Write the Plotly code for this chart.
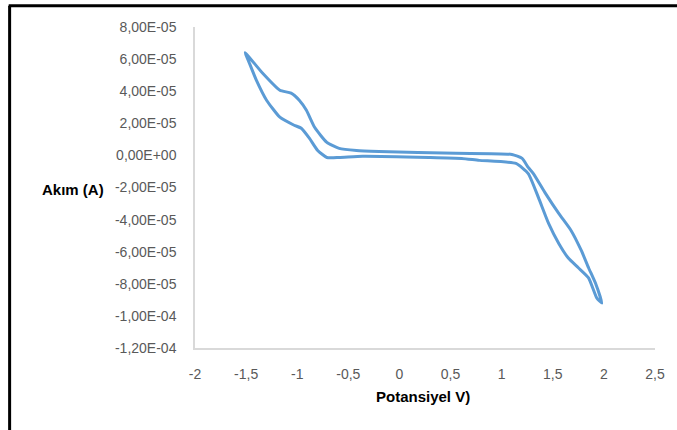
import plotly.graph_objects as go

# Potansiyel (V) ve akim (A) - cevrim boyunca okunan noktalar
potansiyel = [
    -1.51, -1.34, -1.17, -1.06, -0.98, -0.91, -0.83, -0.71, -0.59, -0.42, -0.20,
    0.55, 1.10, 1.20, 1.26, 1.31, 1.43, 1.56, 1.68, 1.78, 1.85, 1.92, 1.98,
    1.93, 1.85, 1.75, 1.65, 1.56, 1.46, 1.36, 1.26, 1.14, 0.78, 0.61, 0.29,
    -0.36, -0.59, -0.71, -0.80, -0.88, -0.96, -1.03, -1.17, -1.30, -1.40, -1.48, -1.51,
]
akim = [
    6.4e-5, 5.13e-5, 4.06e-5, 3.88e-5, 3.44e-5, 2.81e-5, 1.75e-5, 0.81e-5, 0.44e-5, 0.31e-5, 0.25e-5,
    0.13e-5, 0.06e-5, -0.19e-5, -0.75e-5, -1.13e-5, -2.38e-5, -3.63e-5, -4.69e-5, -5.94e-5, -7.0e-5, -8.0e-5, -9.2e-5,
    -8.88e-5, -7.63e-5, -7.0e-5, -6.38e-5, -5.5e-5, -4.25e-5, -2.63e-5, -1.13e-5, -0.5e-5, -0.31e-5, -0.19e-5, -0.13e-5,
    -0.06e-5, -0.13e-5, -0.13e-5, 0.31e-5, 1.06e-5, 1.69e-5, 1.88e-5, 2.38e-5, 3.44e-5, 4.69e-5, 5.94e-5, 6.4e-5,
]

x_ticks = [-2, -1.5, -1, -0.5, 0, 0.5, 1, 1.5, 2, 2.5]
x_labels = ["-2", "-1,5", "-1", "-0,5", "0", "0,5", "1", "1,5", "2", "2,5"]
y_ticks = [8e-5, 6e-5, 4e-5, 2e-5, 0, -2e-5, -4e-5, -6e-5, -8e-5, -1e-4, -1.2e-4]
y_labels = ["8,00E-05", "6,00E-05", "4,00E-05", "2,00E-05", "0,00E+00", "-2,00E-05",
            "-4,00E-05", "-6,00E-05", "-8,00E-05", "-1,00E-04", "-1,20E-04"]

fig = go.Figure()

fig.add_trace(
    go.Scatter(
        x=potansiyel,
        y=akim,
        mode="lines",
        line=dict(color="#5B9BD5", width=3, shape="spline", smoothing=0.5),
        showlegend=False,
    )
)

axis_font = dict(family="Liberation Sans", size=14, color="#595959")

fig.update_xaxes(
    range=[-2, 2.5],
    tickvals=x_ticks,
    ticktext=x_labels,
    showgrid=False,
    zeroline=False,
    showline=True,
    linecolor="#D9D9D9",
    linewidth=1.5,
    ticks="",
    ticklabelstandoff=12,
    tickfont=axis_font,
)
fig.update_yaxes(
    range=[-1.2e-4, 8e-5],
    tickvals=y_ticks,
    ticktext=y_labels,
    showgrid=False,
    zeroline=False,
    showline=True,
    linecolor="#D9D9D9",
    linewidth=1.5,
    ticks="",
    ticklabelstandoff=14,
    tickfont=axis_font,
)

title_font = dict(family="Liberation Sans", size=15, color="#000000")

fig.update_layout(
    width=677,
    height=430,
    margin=dict(l=195, r=20, t=27, b=82),
    plot_bgcolor="white",
    paper_bgcolor="white",
    annotations=[
        dict(text="<b>Akım (A)</b>", xref="paper", yref="paper", x=-0.266, y=0.495,
             showarrow=False, font=title_font, xanchor="center", yanchor="middle"),
        dict(text="<b>Potansiyel V)</b>", xref="paper", yref="paper", x=0.496, y=-0.15,
             showarrow=False, font=title_font, xanchor="center", yanchor="middle"),
    ],
    shapes=[
        # cerceve (ust ve sol kenar)
        dict(type="line", xref="paper", yref="paper", x0=-0.405, x1=1.06, y0=1.066, y1=1.066,
             line=dict(color="black", width=3)),
        dict(type="line", xref="paper", yref="paper", x0=-0.403, x1=-0.403, y0=-0.3, y1=1.066,
             line=dict(color="black", width=3)),
    ],
)

# sayfa kenar boslugunu kaldir
fig.write_html(
    "out.html",
    config={"displayModeBar": False},
    post_script="document.body.style.margin='0';",
)
